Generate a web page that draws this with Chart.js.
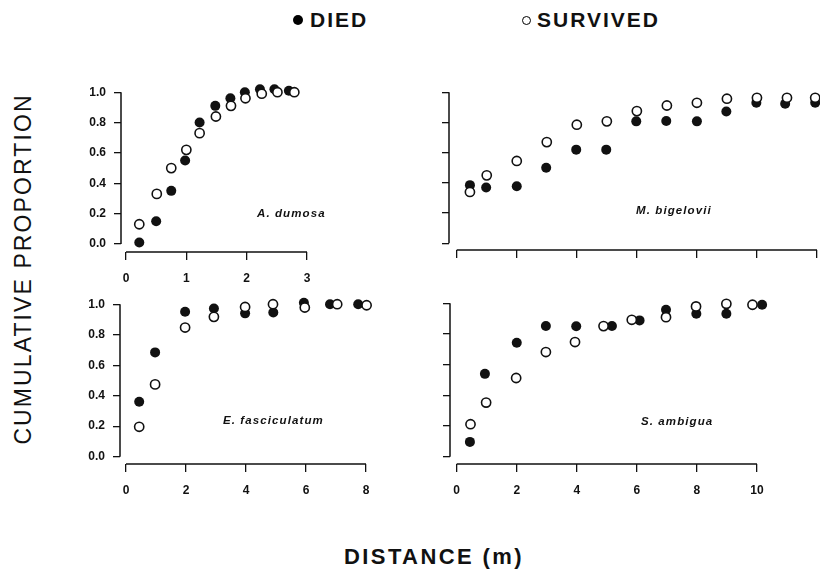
<!DOCTYPE html>
<html lang="en">
<head>
    <meta charset="UTF-8">
    <title>Cumulative Proportion vs Distance</title>
    <script src="https://cdn.jsdelivr.net/npm/chart.js"></script>
    <style>
        body { margin: 0; background: #fff; width: 820px; height: 572px; position: relative; overflow: hidden; font-family: 'Liberation Sans', Arial, sans-serif; color: #111; }
        canvas { position: absolute; }
        .lbl { position: absolute; white-space: nowrap; }
        .legend { top: 8px; font-weight: bold; font-size: 21px; letter-spacing: 2px; line-height: 24px; }
        .dot { position: absolute; border-radius: 50%; box-sizing: border-box; }
        .species { font-weight: bold; font-style: italic; font-size: 11.5px; letter-spacing: 1.1px; transform: translateY(-50%); }
        .ytitle { left: 23px; top: 269px; font-size: 23px; letter-spacing: 2.1px; transform: translate(-50%, -50%) rotate(-90deg); }
        .xtitle { left: 434px; top: 557px; font-size: 22px; font-weight: bold; letter-spacing: 2.4px; transform: translate(-50%, -50%); }
    </style>
</head>
<body>
    <div class="dot" style="left:293px; top:15px; width:10px; height:10px; background:#000;"></div>
    <div class="lbl legend" style="left:310px;">DIED</div>
    <div class="dot" style="left:522px; top:16px; width:9px; height:9px; border:1.5px solid #000;"></div>
    <div class="lbl legend" style="left:537px;">SURVIVED</div>
    <div class="lbl ytitle">CUMULATIVE PROPORTION</div>
    <div class="lbl xtitle">DISTANCE (m)</div>

    <canvas id="dumosa"></canvas>
    <canvas id="bigelovii"></canvas>
    <canvas id="fasciculatum"></canvas>
    <canvas id="ambigua"></canvas>

    <script>
        // values
        const yTicks = [0, 0.2, 0.4, 0.6, 0.8, 1.0];

        const dumosaXTicks = [0, 1, 2, 3];
        const dumosaDiedX = [0.22, 0.5, 0.75, 0.98, 1.22, 1.48, 1.73, 1.97, 2.22, 2.46, 2.7];
        const dumosaDiedY = [0.01, 0.15, 0.35, 0.55, 0.80, 0.91, 0.96, 1.0, 1.02, 1.02, 1.01];
        const dumosaSurvX = [0.22, 0.51, 0.75, 1.0, 1.22, 1.49, 1.74, 1.98, 2.25, 2.51, 2.79];
        const dumosaSurvY = [0.13, 0.33, 0.50, 0.62, 0.73, 0.84, 0.91, 0.96, 0.99, 1.0, 1.0];

        const bigeloviiXTicks = [0, 2, 4, 6, 8, 10, 12];
        const bigeloviiDiedX = [0.44, 0.98, 2.0, 2.98, 3.98, 4.98, 5.98, 6.98, 8.0, 8.98, 9.98, 10.94, 11.94];
        const bigeloviiDiedY = [0.385, 0.37, 0.378, 0.50, 0.62, 0.62, 0.807, 0.81, 0.807, 0.872, 0.93, 0.923, 0.93];
        const bigeloviiSurvX = [0.44, 1.0, 2.0, 3.0, 4.0, 5.0, 6.0, 7.0, 8.0, 9.0, 10.0, 11.0, 11.94];
        const bigeloviiSurvY = [0.34, 0.45, 0.545, 0.67, 0.785, 0.807, 0.875, 0.912, 0.93, 0.957, 0.963, 0.963, 0.963];

        const fasciculatumXTicks = [0, 2, 4, 6, 8];
        const fasciculatumDiedX = [0.44, 0.97, 1.97, 2.93, 3.97, 4.91, 5.93, 6.8, 7.74];
        const fasciculatumDiedY = [0.36, 0.684, 0.95, 0.972, 0.94, 0.946, 1.01, 1.0, 1.0];
        const fasciculatumSurvX = [0.44, 0.97, 1.97, 2.93, 3.97, 4.9, 5.96, 7.04, 8.02];
        const fasciculatumSurvY = [0.196, 0.474, 0.847, 0.917, 0.982, 1.0, 0.978, 1.0, 0.993];

        const ambiguaXTicks = [0, 2, 4, 6, 8, 10];
        const ambiguaDiedX = [0.44, 0.94, 2.0, 2.97, 3.98, 5.17, 6.09, 6.97, 7.98, 8.98, 10.17];
        const ambiguaDiedY = [0.097, 0.54, 0.743, 0.851, 0.85, 0.851, 0.888, 0.957, 0.931, 0.931, 0.99];
        const ambiguaSurvX = [0.46, 0.98, 1.98, 2.97, 3.94, 4.89, 5.83, 6.97, 7.97, 8.98, 9.85];
        const ambiguaSurvY = [0.212, 0.353, 0.513, 0.682, 0.747, 0.851, 0.892, 0.909, 0.979, 0.996, 0.99];

        const ink = '#111';
        const tickFont = { family: "'Liberation Sans', Arial, sans-serif", size: 12, weight: 'bold' };

        // detached axis lines, running only over the labelled range
        const axisLines = {
            id: 'axisLines',
            beforeDatasetsDraw(chart) {
                const { x, y } = chart.scales;
                const area = chart.chartArea;
                const ctx = chart.ctx;
                const lastX = x.ticks[x.ticks.length - 1].value;
                ctx.save();
                ctx.strokeStyle = ink;
                ctx.lineWidth = 1.5;
                ctx.beginPath();
                ctx.moveTo(area.left, y.getPixelForValue(0));
                ctx.lineTo(area.left, y.getPixelForValue(1));
                ctx.moveTo(x.getPixelForValue(0), area.bottom);
                ctx.lineTo(x.getPixelForValue(lastX), area.bottom);
                ctx.stroke();
                ctx.restore();
            }
        };

        function pairs(xs, ys) {
            return xs.map((v, i) => ({ x: v, y: ys[i] }));
        }

        function makePanel(id, box, xTicks, survX, survY, diedX, diedY, showX, showY, name, namePos) {
            const yw = 55, xh = 40, pad = 15;
            const canvas = document.getElementById(id);
            const w = box.right - box.left + yw + pad;
            const h = box.bottom - box.top + pad + xh;
            canvas.width = w; canvas.height = h;
            canvas.style.left = (box.left - yw) + 'px';
            canvas.style.top = (box.top - pad) + 'px';
            canvas.style.width = w + 'px';
            canvas.style.height = h + 'px';

            new Chart(canvas, {
                type: 'scatter',
                data: {
                    datasets: [
                        { label: 'SURVIVED', data: pairs(survX, survY), pointRadius: 4.6, pointBackgroundColor: '#fff', pointBorderColor: ink, pointBorderWidth: 1.6, clip: false },
                        { label: 'DIED', data: pairs(diedX, diedY), pointRadius: 5, pointBackgroundColor: ink, pointBorderWidth: 0, clip: false }
                    ]
                },
                options: {
                    responsive: false,
                    animation: false,
                    layout: { padding: { top: pad, right: pad, left: 0, bottom: 0 } },
                    plugins: { legend: { display: false }, tooltip: { enabled: false } },
                    scales: {
                        x: {
                            type: 'linear', min: box.xMin, max: box.xMax,
                            afterBuildTicks: s => { s.ticks = xTicks.map(v => ({ value: v })); },
                            afterFit: s => { s.height = xh; },
                            border: { display: false },
                            grid: { drawOnChartArea: false, drawTicks: true, tickLength: 8, color: ink, lineWidth: 1.3 },
                            ticks: { color: ink, font: tickFont, padding: showX ? 11 : 0, maxRotation: 0, callback: v => showX ? String(v) : '' }
                        },
                        y: {
                            type: 'linear', min: box.yMin, max: 1.0,
                            afterBuildTicks: s => { s.ticks = yTicks.map(v => ({ value: v })); },
                            afterFit: s => { s.width = yw; },
                            border: { display: false },
                            grid: { drawOnChartArea: false, drawTicks: true, tickLength: 7, color: ink, lineWidth: 1.3 },
                            ticks: { color: ink, font: tickFont, padding: 8, callback: v => showY ? v.toFixed(1) : '' }
                        }
                    }
                },
                plugins: [axisLines]
            });

            const tag = document.createElement('div');
            tag.className = 'lbl species';
            tag.textContent = name;
            tag.style.left = namePos[0] + 'px';
            tag.style.top = namePos[1] + 'px';
            document.body.appendChild(tag);
        }

        makePanel('dumosa', { left: 121, right: 307, top: 92, bottom: 252, xMin: -0.083, xMax: 3, yMin: -0.053 },
            dumosaXTicks, dumosaSurvX, dumosaSurvY, dumosaDiedX, dumosaDiedY, true, true, 'A. dumosa', [257, 213]);
        makePanel('bigelovii', { left: 449, right: 817, top: 92, bottom: 250, xMin: -0.257, xMax: 12, yMin: -0.044 },
            bigeloviiXTicks, bigeloviiSurvX, bigeloviiSurvY, bigeloviiDiedX, bigeloviiDiedY, false, false, 'M. bigelovii', [636, 210]);
        makePanel('fasciculatum', { left: 120, right: 372, top: 304, bottom: 464, xMin: -0.2, xMax: 8.2, yMin: -0.048 },
            fasciculatumXTicks, fasciculatumSurvX, fasciculatumSurvY, fasciculatumDiedX, fasciculatumDiedY, true, true, 'E. fasciculatum', [223, 420]);
        makePanel('ambigua', { left: 450, right: 766, top: 303, bottom: 464, xMin: -0.223, xMax: 10.3, yMin: -0.047 },
            ambiguaXTicks, ambiguaSurvX, ambiguaSurvY, ambiguaDiedX, ambiguaDiedY, true, false, 'S. ambigua', [641, 421]);
    </script>
</body>
</html>
